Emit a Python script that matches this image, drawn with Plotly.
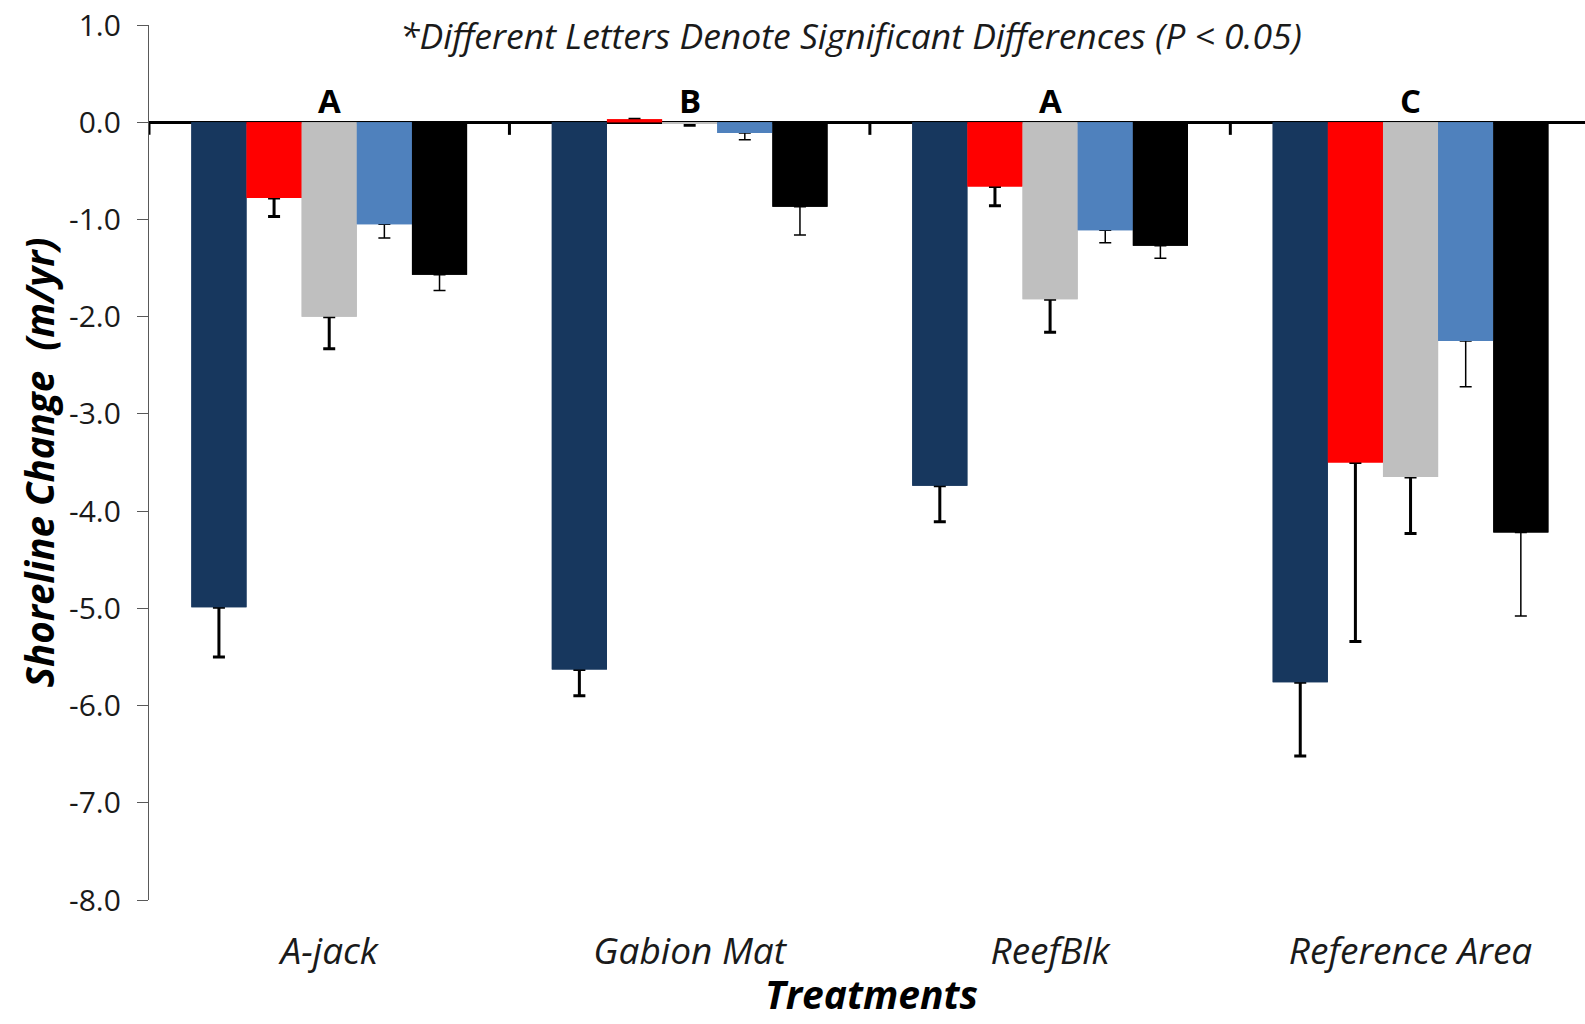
import plotly.graph_objects as go

# Treatments on the x axis and the significance letter for each group
treatments = ["A-jack", "Gabion Mat", "ReefBlk", "Reference Area"]
group_letters = ["A", "B", "A", "C"]

# Mean shoreline change (m/yr) for each of the five series, per treatment
series_1 = [-4.99, -5.63, -3.74, -5.76]
series_2 = [-0.78, 0.03, -0.66, -3.50]
series_3 = [-2.00, -0.01, -1.82, -3.65]
series_4 = [-1.05, -0.11, -1.11, -2.25]
series_5 = [-1.57, -0.87, -1.27, -4.22]

# Standard errors (drawn away from zero only)
series_1_err = [0.51, 0.27, 0.37, 0.76]
series_2_err = [0.19, None, 0.20, 1.84]
series_3_err = [0.33, 0.02, 0.34, 0.58]
series_4_err = [0.14, 0.07, 0.13, 0.47]
series_5_err = [0.16, 0.29, 0.13, 0.86]

# Y axis ticks
tick_values = [1.0, 0.0, -1.0, -2.0, -3.0, -4.0, -5.0, -6.0, -7.0, -8.0]
tick_labels = [f"{v:.1f}" for v in tick_values]

series = [
    ("s1", series_1, series_1_err, "#17375E", 3.0),
    ("s2", series_2, series_2_err, "#FF0000", 3.0),
    ("s3", series_3, series_3_err, "#BFBFBF", 3.0),
    ("s4", series_4, series_4_err, "#4F81BD", 1.5),
    ("s5", series_5, series_5_err, "#000000", 1.5),
]

FONT = "Open Sans"
TEXT = "#1a1a1a"

fig = go.Figure()

# Bars carrying the downward error bars
for name, vals, errs, color, thick in series:
    fig.add_trace(go.Bar(
        x=treatments, y=vals, name=name, offsetgroup=name,
        marker=dict(color=color, line=dict(width=0)),
        error_y=dict(type="data", symmetric=False,
                     array=[0] * len(vals), arrayminus=errs,
                     color="black", thickness=thick, width=6),
        showlegend=False, hoverinfo="skip",
    ))

# Same bars drawn again on top so the error bars start cleanly at the bar ends
for name, vals, errs, color, thick in series:
    fig.add_trace(go.Bar(
        x=treatments, y=vals, name=name, offsetgroup=name,
        marker=dict(color=color, line=dict(width=0)),
        showlegend=False, hoverinfo="skip",
    ))

# Short tick marks below the zero line at category boundaries
boundaries = [i - 0.5 for i in range(len(treatments) + 1)]
for b in boundaries:
    fig.add_shape(type="line", xref="x", yref="y", x0=b, x1=b, y0=0, y1=-0.13,
                  line=dict(color="black", width=3))

# Significance letters above each group
for cat, letter in zip(treatments, group_letters):
    fig.add_annotation(x=cat, y=0, xref="x", yref="y", text=letter,
                       showarrow=False, yanchor="bottom", yshift=-3,
                       font=dict(family=FONT, size=33, color="black", weight="bold"))

fig.add_annotation(
    x=0.489, y=0.9, xref="paper", yref="y", xanchor="center", yanchor="middle",
    text="*Different Letters Denote Significant Differences (P &lt; 0.05)",
    showarrow=False,
    font=dict(family=FONT, size=35.5, color=TEXT, style="italic"),
)

# X axis title, set just below the category labels
fig.add_annotation(
    x=0.503, y=-0.1394, xref="paper", yref="paper", xanchor="center", yanchor="bottom",
    text="Treatments", showarrow=False,
    font=dict(family=FONT, size=39, color="black", weight="bold", style="italic"),
)

fig.update_layout(
    width=1585, height=1024,
    margin=dict(l=149, r=0, t=25, b=124),
    paper_bgcolor="white", plot_bgcolor="white",
    barmode="group", bargap=0.235, bargroupgap=0,
    xaxis=dict(
        type="category", range=[-0.5, 3.484], automargin=False,
        showline=False, showgrid=False, zeroline=False, ticks="",
        tickfont=dict(family=FONT, size=37, color=TEXT, style="italic"),
        ticklabelstandoff=26,
    ),
    yaxis=dict(
        range=[-8, 1], tickvals=tick_values, ticktext=tick_labels,
        automargin=False,
        showline=True, linecolor="#595959", linewidth=1.3,
        ticks="outside", ticklen=11, tickwidth=1.3, tickcolor="#595959",
        tickfont=dict(family=FONT, size=30, color=TEXT),
        ticklabelstandoff=10,
        showgrid=False, zeroline=True, zerolinecolor="black", zerolinewidth=3,
        layer="above traces",
        title=dict(text="Shoreline Change  (m/yr)", standoff=2,
                   font=dict(family=FONT, size=38.5, color="black",
                             weight="bold", style="italic")),
    ),
)

fig.write_html("out.html")
